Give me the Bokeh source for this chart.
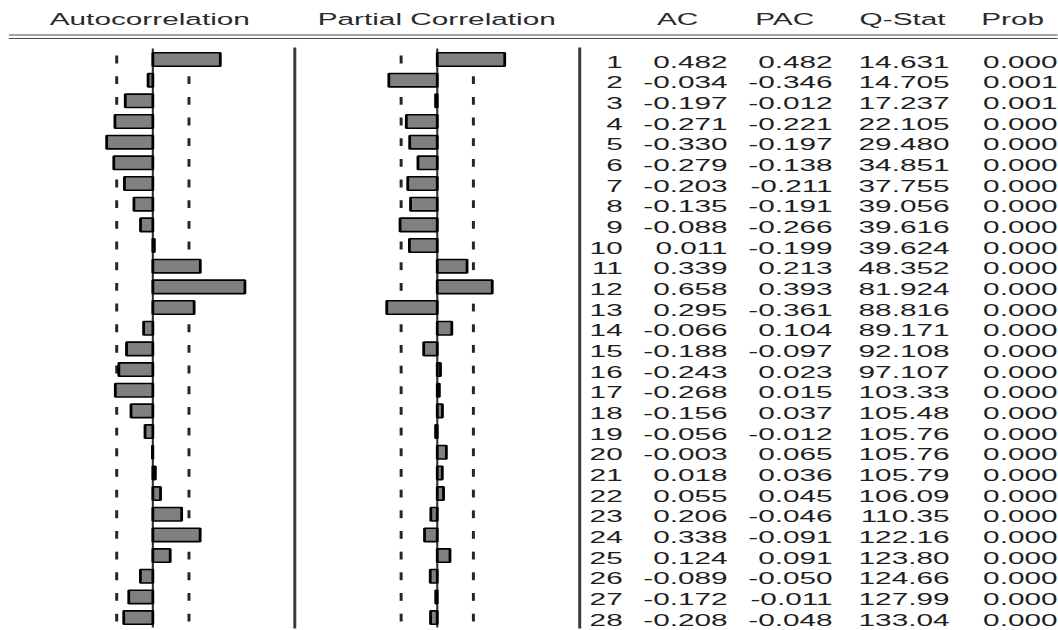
import numpy as np
from bokeh.plotting import figure
from bokeh.models import Range1d, ColumnDataSource, InlineStyleSheet
from bokeh.core.properties import value
from bokeh.embed import file_html
from bokeh.resources import INLINE

# ---- correlogram data -------------------------------------------------------
lags = list(range(1, 29))
ac = [0.482, -0.034, -0.197, -0.271, -0.330, -0.279, -0.203, -0.135, -0.088, 0.011,
      0.339, 0.658, 0.295, -0.066, -0.188, -0.243, -0.268, -0.156, -0.056, -0.003,
      0.018, 0.055, 0.206, 0.338, 0.124, -0.089, -0.172, -0.208]
pac = [0.482, -0.346, -0.012, -0.221, -0.197, -0.138, -0.211, -0.191, -0.266, -0.199,
       0.213, 0.393, -0.361, 0.104, -0.097, 0.023, 0.015, 0.037, -0.012, 0.065,
       0.036, 0.045, -0.046, -0.091, 0.091, -0.050, -0.011, -0.048]
q_stat = [14.631, 14.705, 17.237, 22.105, 29.480, 34.851, 37.755, 39.056, 39.616, 39.624,
          48.352, 81.924, 88.816, 89.171, 92.108, 97.107, 103.33, 105.48, 105.76, 105.76,
          105.79, 106.09, 110.35, 122.16, 123.80, 124.66, 127.99, 133.04]
prob = [0.000, 0.001, 0.001, 0.000, 0.000, 0.000, 0.000, 0.000, 0.000, 0.000,
        0.000, 0.000, 0.000, 0.000, 0.000, 0.000, 0.000, 0.000, 0.000, 0.000,
        0.000, 0.000, 0.000, 0.000, 0.000, 0.000, 0.000, 0.000]
n_obs = 60
headers = ["Autocorrelation", "Partial Correlation", "AC", "PAC", "Q-Stat", "Prob"]

# ---- layout (page pixels) ---------------------------------------------------
PAGE_W, PAGE_H = 1058, 630
FIG_W = 345
# The canvas is sized from the host's (already widened) box, so the horizontal
# scale acts twice: FIG_W * STRETCH**2 == PAGE_W.
STRETCH = (PAGE_W / FIG_W) ** 0.5
ROW0_Y, ROW_STEP = 59.0, 20.67   # centre of first row, row pitch
BAR_SCALE = 140.0                # pixels per unit of correlation
ACF_ZERO, PACF_ZERO = 152.0, 436.5
FONT = value("Liberation Sans")
FSIZE = "17px"
INK = "#1e1e1e"

conf = 2.0 / np.sqrt(n_obs)

p = figure(width=FIG_W, height=PAGE_H,
           x_range=Range1d(0, PAGE_W),
           y_range=Range1d(1 + (PAGE_H - ROW0_Y) / ROW_STEP, 1 - ROW0_Y / ROW_STEP),
           output_backend="svg", toolbar_location=None,
           x_axis_location=None, y_axis_location=None,
           min_border=0, outline_line_color=None,
           background_fill_color="white", border_fill_color="white")
p.grid.visible = False
p.extra_x_ranges = {
    "acf": Range1d(-ACF_ZERO / BAR_SCALE, (PAGE_W - ACF_ZERO) / BAR_SCALE),
    "pacf": Range1d(-PACF_ZERO / BAR_SCALE, (PAGE_W - PACF_ZERO) / BAR_SCALE),
}
p.extra_y_ranges = {"px": Range1d(PAGE_H, 0)}
p.stylesheets = [InlineStyleSheet(
    css=f":host {{ transform: scaleX({STRETCH:.5f}); transform-origin: 0 0; "
        f"overflow: visible !important; }}")]

src = ColumnDataSource(dict(
    lag=lags, ac=ac, pac=pac,
    lo=[l - 0.19 for l in lags], hi=[l + 0.19 for l in lags],
    lag_txt=[str(l) for l in lags],
    ac_txt=[f"{v:.3f}" for v in ac],
    pac_txt=[f"{v:.3f}" for v in pac],
    q_txt=[f"{v:.3f}" if v < 100 else f"{v:.2f}" for v in q_stat],
    prob_txt=[f"{v:.3f}" for v in prob],
))

# header texts and double rule
head_x = [149, 436, 677, 784, 902, 1012]
p.text(x=head_x, y=[19] * len(headers), text=headers, y_range_name="px",
       text_align="center", text_baseline="middle", text_font=FONT,
       text_font_size=FSIZE, text_color="#2a2a2a")
p.segment(x0=[8, 8], y0=[34.5, 38.0], x1=[PAGE_W, PAGE_W], y1=[34.5, 38.0],
          y_range_name="px", line_color="#4a4a4a", line_width=1.2)

# panel separators
p.segment(x0=[294, 579], y0=[47, 47], x1=[294, 579], y1=[628, 628],
          y_range_name="px", line_color="#3a3a3a", line_width=1.7)

for rng, col in (("acf", "ac"), ("pacf", "pac")):
    # zero line
    p.segment(x0=[0], y0=[48], x1=[0], y1=[627], x_range_name=rng,
              y_range_name="px", line_color="#303030", line_width=1.2)
    # confidence band marks, one per row
    for b in (-conf, conf):
        p.segment(x0=b, y0="lo", x1=b, y1="hi", source=src, x_range_name=rng,
                  line_color="#262626", line_width=1.7)
    # bars
    p.hbar(y="lag", left=0, right=col, height=0.65, source=src, x_range_name=rng,
           fill_color="#808080", line_color="black", line_width=1.6)

# numeric table
for xr, field in ((622, "lag_txt"), (727, "ac_txt"), (832, "pac_txt"),
                  (949, "q_txt"), (1057, "prob_txt")):
    p.text(x=xr, y="lag", text=field, source=src, y_offset=2,
           text_align="right", text_baseline="middle", text_font=FONT,
           text_font_size=FSIZE, text_color=INK)

open("out.html", "w").write(file_html(p, INLINE))
